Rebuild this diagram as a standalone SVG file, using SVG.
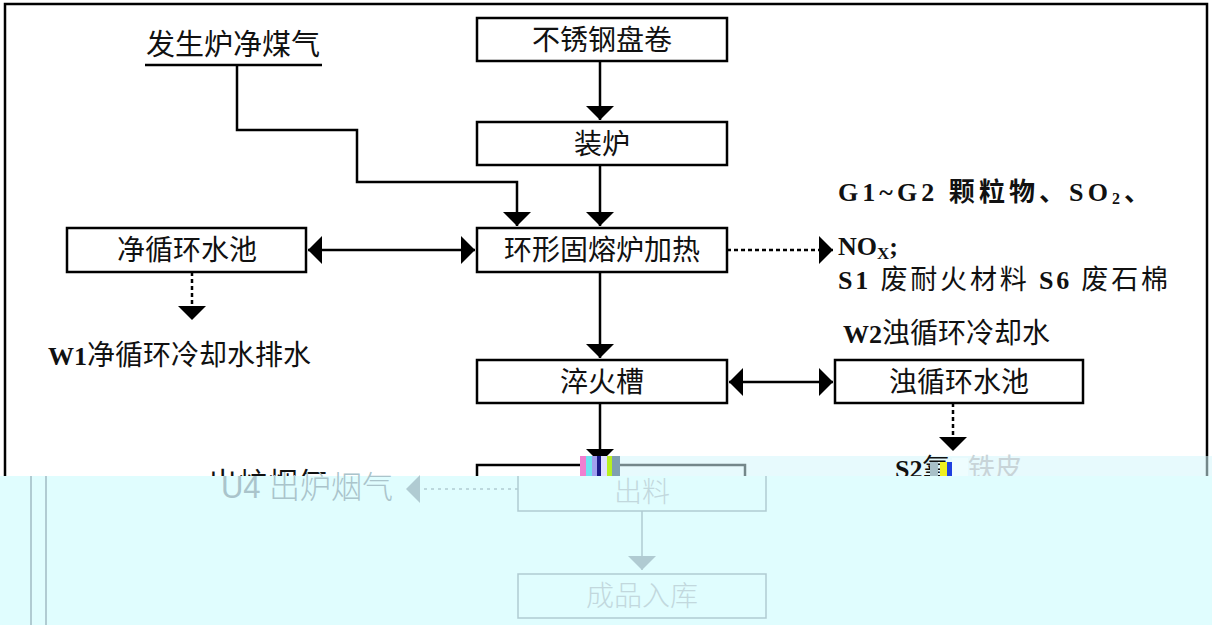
<svg xmlns="http://www.w3.org/2000/svg" width="1212" height="625" viewBox="0 0 1212 625">
<defs>
<marker id="ahb" viewBox="0 0 10 10" refX="10" refY="5" markerWidth="14" markerHeight="28" markerUnits="userSpaceOnUse" orient="auto-start-reverse" preserveAspectRatio="none"><path d="M0,0 L10,5 L0,10 z" fill="#000"/></marker>
<marker id="ahg" viewBox="0 0 10 10" refX="10" refY="5" markerWidth="14" markerHeight="28" markerUnits="userSpaceOnUse" orient="auto-start-reverse" preserveAspectRatio="none"><path d="M0,0 L10,5 L0,10 z" fill="#b0cbd2"/></marker>
<clipPath id="above"><rect x="0" y="0" width="1212" height="476"/></clipPath>
</defs>
<style>
.box{fill:#fff;stroke:#000;stroke-width:2.5}
.t{font-family:"Liberation Serif","Noto Sans CJK SC",serif;font-size:28px;fill:#111;text-anchor:middle}
.lb{font-family:"Liberation Serif","Noto Sans CJK SC",serif;font-size:26px;fill:#111;font-weight:bold}
.cn{font-weight:normal;font-size:27px}
.ln{stroke:#000;stroke-width:2.5;fill:none}
.dash{stroke:#000;stroke-width:2.5;fill:none;stroke-dasharray:4 3}
.gh{stroke:#b0cbd2;stroke-width:1.5;fill:none}
.ght{font-family:"Liberation Serif","Noto Sans CJK SC",serif;font-size:28px;fill:#c2d8dd;text-anchor:middle;font-weight:300}
</style>
<rect width="1212" height="625" fill="#fff"/>
<rect x="5" y="4" width="1202" height="640" fill="none" stroke="#000" stroke-width="2.5"/>

<g id="src">
<text x="233" y="55" class="t" style="font-size:29px">发生炉净煤气</text>
<line x1="145" y1="65" x2="322" y2="65" stroke="#000" stroke-width="2.5"/>
</g>
<g id="n1"><rect x="477" y="18" width="250" height="43" class="box"/><text x="602" y="50" class="t">不锈钢盘卷</text></g>
<g id="n2"><rect x="477" y="122" width="250" height="43" class="box"/><text x="602" y="154" class="t">装炉</text></g>
<g id="n3"><rect x="477" y="228" width="250" height="44" class="box"/><text x="602" y="260" class="t">环形固熔炉加热</text></g>
<g id="n4"><rect x="67" y="228" width="239" height="44" class="box"/><text x="187" y="260" class="t">净循环水池</text></g>
<g id="n5"><rect x="477" y="360" width="250" height="43" class="box"/><text x="602" y="392" class="t">淬火槽</text></g>
<g id="n6"><rect x="835" y="360" width="248" height="43" class="box"/><text x="959" y="392" class="t">浊循环水池</text></g>
<g id="n7"><rect x="477" y="465" width="268" height="50" class="box"/></g>

<g id="labels">
<text x="838" y="201" class="lb" textLength="312" lengthAdjust="spacing">G1~G2  颗粒物、SO<tspan font-size="16" dy="3">2</tspan><tspan dy="-3">、</tspan></text>
<text x="838" y="255" class="lb">NO<tspan font-size="17" dy="4">X</tspan><tspan dy="-4">;</tspan></text>
<text x="838" y="289" class="lb" textLength="330" lengthAdjust="spacing">S1 <tspan class="cn">废耐火材料</tspan>  S6 <tspan class="cn">废石棉</tspan></text>
<text x="843" y="343" class="lb">W2<tspan class="cn" style="font-size:28px">浊循环冷却水</tspan></text>
<text x="48" y="365" class="lb">W1<tspan class="cn" style="font-size:28px">净循环冷却水排水</tspan></text>
<text x="168" y="494" class="lb" clip-path="url(#above)">G4 <tspan class="cn" style="font-size:30px">出炉烟气</tspan></text>
</g>

<g id="connectors">
<path d="M237,65 V130 H357 V182 H517 V226" class="ln" marker-end="url(#ahb)"/>
<line x1="600" y1="61" x2="600" y2="120" class="ln" marker-end="url(#ahb)"/>
<line x1="600" y1="165" x2="600" y2="226" class="ln" marker-end="url(#ahb)"/>
<line x1="600" y1="272" x2="600" y2="358" class="ln" marker-end="url(#ahb)"/>
<line x1="600" y1="403" x2="600" y2="463" class="ln" marker-end="url(#ahb)"/>
<line x1="308" y1="250" x2="475" y2="250" class="ln" marker-start="url(#ahb)" marker-end="url(#ahb)"/>
<line x1="729" y1="382" x2="833" y2="382" class="ln" marker-start="url(#ahb)" marker-end="url(#ahb)"/>
<line x1="727" y1="250" x2="833" y2="250" class="dash" marker-end="url(#ahb)"/>
<line x1="192" y1="272" x2="192" y2="320" class="dash" marker-end="url(#ahb)"/>
<line x1="953" y1="403" x2="953" y2="451" class="dash" marker-end="url(#ahb)"/>
</g>

<g id="glitch">
<rect x="580" y="456" width="632" height="20" fill="#d3f6fb" opacity="0.55"/>
<rect x="580" y="456" width="6" height="20" fill="#f07fd0"/>
<rect x="586" y="456" width="6" height="20" fill="#6fe3f0"/>
<rect x="592" y="456" width="5" height="20" fill="#a0a0f0"/>
<rect x="597" y="456" width="4" height="20" fill="#1a1a8a"/>
<rect x="601" y="456" width="6" height="20" fill="#e0e0ff"/>
<rect x="607" y="456" width="5" height="20" fill="#b8f020"/>
<rect x="612" y="456" width="8" height="20" fill="#7fa0b0"/>
<text x="895" y="478" class="lb">S2<tspan class="cn">氧</tspan></text>
<rect x="930" y="462" width="8" height="14" fill="#a8c0c8"/>
<rect x="940" y="462" width="7" height="14" fill="#f0f020"/>
<rect x="947" y="462" width="5" height="14" fill="#2040e0"/>
<rect x="952" y="458" width="16" height="18" fill="#eefdfe"/>
<text x="968" y="478" class="lb" style="fill:#c8d4d8"><tspan class="cn">铁皮</tspan></text>
</g>

<g id="band">
<rect x="0" y="476" width="1212" height="149" fill="#e0fdfe"/>
<line x1="31" y1="476" x2="31" y2="625" class="gh" style="stroke-width:2"/>
<line x1="46" y1="476" x2="46" y2="625" class="gh" style="stroke-width:2"/>
<text x="307" y="498" class="ght" style="font-family:'Liberation Sans','Noto Sans CJK SC',sans-serif;font-size:31px;fill:#aac4cb">U4 出炉烟气</text>
<line x1="518" y1="489" x2="406" y2="489" class="gh" stroke-dasharray="3 4" marker-end="url(#ahg)"/>
<g id="n8"><path d="M518,476 V511 H766 V476" class="gh"/><text x="642" y="502" class="ght">出料</text></g>
<line x1="642" y1="511" x2="642" y2="570" class="gh" marker-end="url(#ahg)"/>
<g id="n9"><rect x="518" y="574" width="248" height="44" class="gh"/><text x="642" y="606" class="ght">成品入库</text></g>
</g>
</svg>
